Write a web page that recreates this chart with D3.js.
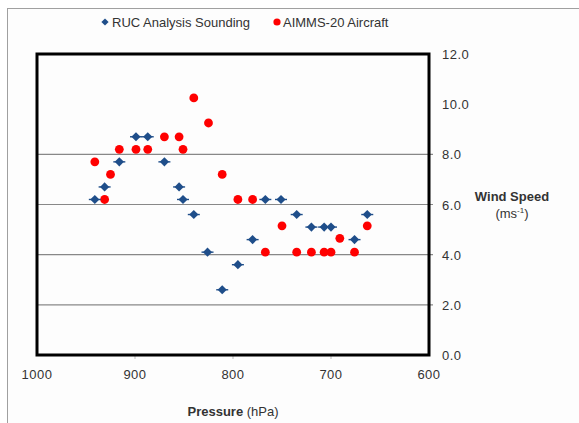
<!DOCTYPE html>
<html>
<head>
<meta charset="utf-8">
<script src="https://cdn.jsdelivr.net/npm/d3@7"></script>
<style>
  body { margin: 0; background: #fff; }
  text { font-family: "Liberation Sans", Arial, sans-serif; fill: #333; }
</style>
</head>
<body>
<div id="chart"></div>
<script>
// RUC Analysis Sounding
const rucPressure = [941, 931, 916, 899, 887, 870, 855, 851, 840, 826, 811, 795, 780, 767, 751, 735, 720, 707, 700, 676, 663];
const rucWind     = [6.2, 6.7, 7.7, 8.7, 8.7, 7.7, 6.7, 6.2, 5.6, 4.1, 2.6, 3.6, 4.6, 6.2, 6.2, 5.6, 5.1, 5.1, 5.1, 4.6, 5.6];

// AIMMS-20 Aircraft
const aimmsPressure = [941, 931, 925, 916, 899, 887, 870, 855, 851, 840, 825, 811, 795, 780, 767, 750, 735, 720, 707, 700, 691, 676, 663];
const aimmsWind     = [7.7, 6.2, 7.2, 8.2, 8.2, 8.2, 8.7, 8.7, 8.2, 10.25, 9.25, 7.2, 6.2, 6.2, 4.1, 5.15, 4.1, 4.1, 4.1, 4.1, 4.65, 4.1, 5.15];

const xTicks = [1000, 900, 800, 700, 600];
const yTicks = [0, 2, 4, 6, 8, 10, 12];
const gridTicks = [2, 4, 6, 8];

const W = 579, H = 423;
const margin = {top: 54, right: 150, bottom: 68, left: 37};

const svg = d3.select("#chart").append("svg")
    .attr("width", W)
    .attr("height", H);

// outer chart frame (only the left/top edges show in the crop)
svg.append("rect")
    .attr("x", 7.5).attr("y", 8.5)
    .attr("width", W + 20).attr("height", H + 20)
    .attr("fill", "#fdfdfd")
    .attr("stroke", "#a0a0a0");

const x = d3.scaleLinear()
    .domain([1000, 600])
    .range([margin.left, W - margin.right]);

const y = d3.scaleLinear()
    .domain([0, 12])
    .range([H - margin.bottom, margin.top]);

// gridlines
svg.append("g")
    .selectAll("line")
    .data(gridTicks)
    .join("line")
    .attr("x1", x(1000))
    .attr("x2", x(600) + 4)
    .attr("y1", d => y(d))
    .attr("y2", d => y(d))
    .attr("stroke", "#888")
    .attr("stroke-width", 1.2);

// x ticks below the plot
svg.append("g")
    .selectAll("line")
    .data(xTicks.slice(1, -1))
    .join("line")
    .attr("x1", d => x(d)).attr("x2", d => x(d))
    .attr("y1", y(0)).attr("y2", y(0) + 4)
    .attr("stroke", "#bbb");

// plot frame
svg.append("rect")
    .attr("x", x(1000))
    .attr("y", y(12))
    .attr("width", x(600) - x(1000))
    .attr("height", y(0) - y(12))
    .attr("fill", "none")
    .attr("stroke", "#000")
    .attr("stroke-width", 3);

// tick labels
svg.append("g")
    .selectAll("text")
    .data(xTicks)
    .join("text")
    .attr("x", d => x(d))
    .attr("y", y(0) + 24)
    .attr("text-anchor", "middle")
    .style("font-size", "13px")
    .style("letter-spacing", "0.5px")
    .text(d => d);

svg.append("g")
    .selectAll("text")
    .data(yTicks)
    .join("text")
    .attr("x", x(600) + 13)
    .attr("y", d => y(d) + 5)
    .style("font-size", "13px")
    .style("letter-spacing", "0.5px")
    .text(d => d.toFixed(1));

// axis titles
const xTitle = svg.append("text")
    .attr("x", (x(1000) + x(600)) / 2)
    .attr("y", 416)
    .attr("text-anchor", "middle")
    .style("font-size", "13px");
xTitle.append("tspan").style("font-weight", "bold").text("Pressure ");
xTitle.append("tspan").text("(hPa)");

const yTitle = svg.append("text")
    .attr("x", 512)
    .attr("text-anchor", "middle")
    .style("font-size", "13px");
yTitle.append("tspan").attr("x", 512).attr("y", 201)
    .style("font-weight", "bold").text("Wind Speed");
const unit = yTitle.append("tspan").attr("x", 512).attr("y", 218);
unit.append("tspan").text("(ms");
unit.append("tspan").attr("dy", -5).style("font-size", "8px").text("-1");
unit.append("tspan").attr("dy", 5).text(")");

// markers
const blue = "#1f4e8a", red = "#ff0000";
const square = d3.symbol().type(d3.symbolSquare).size(42);

const ruc = d3.zip(rucPressure, rucWind);
const aimms = d3.zip(aimmsPressure, aimmsWind);

svg.append("g")
    .selectAll("circle")
    .data(aimms)
    .join("circle")
    .attr("cx", d => x(d[0]))
    .attr("cy", d => y(d[1]))
    .attr("r", 4.4)
    .attr("fill", red);

const rucG = svg.append("g");
rucG.selectAll("line")
    .data(ruc)
    .join("line")
    .attr("x1", d => x(d[0]) - 6)
    .attr("x2", d => x(d[0]) + 6)
    .attr("y1", d => y(d[1]))
    .attr("y2", d => y(d[1]))
    .attr("stroke", blue)
    .attr("stroke-width", 1.4);
rucG.selectAll("path")
    .data(ruc)
    .join("path")
    .attr("d", square)
    .attr("transform", d => `translate(${x(d[0])},${y(d[1])}) rotate(45)`)
    .attr("fill", blue);

// legend
const legend = svg.append("g");
legend.append("path")
    .attr("d", d3.symbol().type(d3.symbolSquare).size(26))
    .attr("transform", "translate(105,22) rotate(45)")
    .attr("fill", blue);
legend.append("text")
    .attr("x", 112).attr("y", 27)
    .style("font-size", "13px")
    .text("RUC Analysis Sounding");
legend.append("circle")
    .attr("cx", 277).attr("cy", 22).attr("r", 3.6)
    .attr("fill", red);
legend.append("text")
    .attr("x", 283).attr("y", 27)
    .style("font-size", "13px")
    .text("AIMMS-20 Aircraft");
</script>
</body>
</html>
